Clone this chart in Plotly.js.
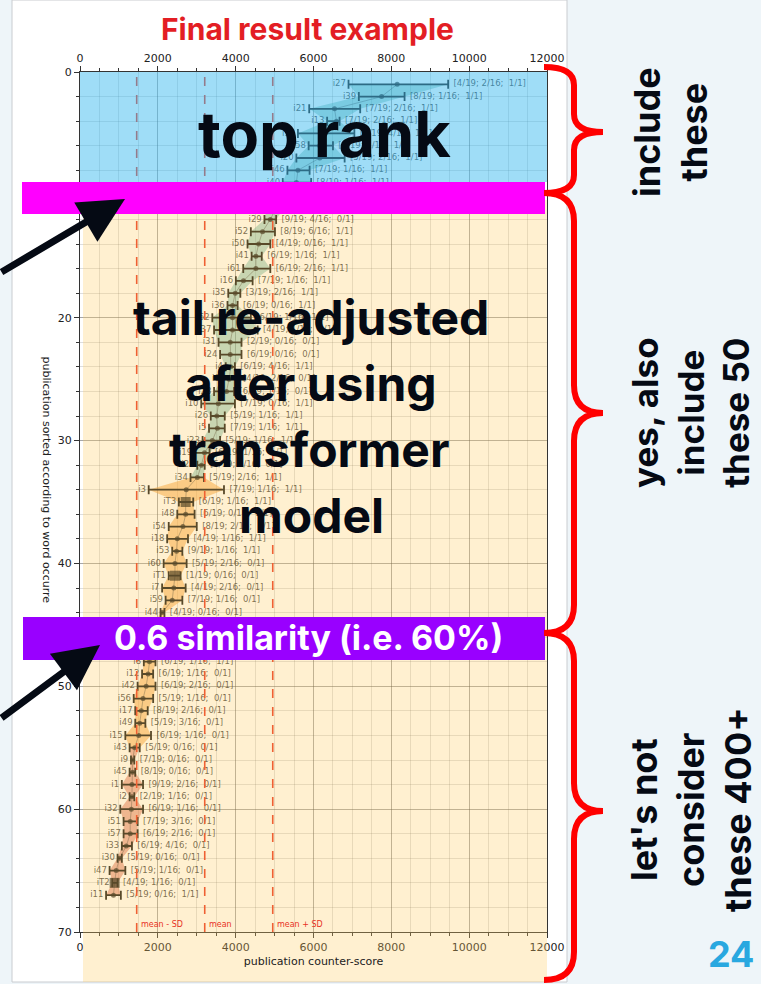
<!DOCTYPE html>
<html><head><meta charset="utf-8">
<script src="https://cdn.plot.ly/plotly-3.0.1.min.js"></script>
<style>html,body{margin:0;padding:0;background:#eef5f9;}#chart{width:761px;height:984px;}</style>
</head><body><div id="chart"></div>
<script>
// ---------- data ----------
const names = ["i27","i39","i21","i13","i38","i58","i20","i46","i40","i14","i25","i29","i52","i50","i41","i61","i16","i35","i36","i62","i37","i31","i24","i4","i6","i28","i10","i26","i5","i23","i19","i22","i34","i3","iT3","i48","i54","i18","i53","i60","iT1","i7","i59","i44","i55","i63","i64","i8","i12","i42","i56","i17","i49","i15","i43","i9","i45","i1","i2","i32","i51","i57","i33","i30","i47","iT2","i11"];
const centers = [8150,7750,6540,6590,6300,6160,6160,5600,5560,5300,5050,4890,4690,4590,4520,4520,4200,3990,3920,3920,3920,3860,3860,3875,3830,3765,3555,3515,3530,3400,3200,3120,3015,2730,2715,2715,2645,2500,2480,2440,2440,2410,2370,2110,2000,1900,1850,1785,1750,1700,1620,1575,1535,1510,1405,1350,1350,1335,1335,1320,1290,1290,1190,1015,930,890,860];
const lows = [6900,7165,5890,6350,5600,5875,5560,5330,5210,5000,4800,4740,4390,4305,4410,4195,4005,3810,3790,3400,3445,3560,3600,3745,3660,3445,3115,3360,3315,3150,2950,3015,2840,1765,2540,2500,2280,2240,2370,2150,2280,2110,2200,2070,1900,1750,1700,1640,1595,1480,1380,1420,1420,1165,1275,1310,1275,1075,1275,1035,1120,1120,1075,965,760,830,670];
const highs = [9460,8340,7200,6670,7050,6500,6800,5900,5940,5600,5250,5040,5010,4890,4670,4890,4435,4120,4050,4390,4565,4150,4150,3980,4050,3960,3980,3720,3720,3600,3330,3205,3185,3700,2910,2945,3000,2775,2630,2740,2585,2715,2630,2170,2150,2050,2000,1940,1880,1940,1880,1740,1680,1825,1535,1395,1420,1620,1395,1620,1480,1480,1335,1075,1165,965,1050];
const counts = ["[4/19; 2/16;  1/1]","[8/19; 1/16;  1/1]","[7/19; 2/16;  1/1]","[7/19; 2/16;  1/1]","[5/19; 4/16;  1/1]","[6/19; 1/16;  1/1]","[5/19; 2/16;  1/1]","[7/19; 1/16;  1/1]","[8/19; 1/16;  1/1]","[6/19; 2/16;  1/1]","[5/19; 1/16;  1/1]","[9/19; 4/16;  0/1]","[8/19; 6/16;  1/1]","[4/19; 0/16;  1/1]","[6/19; 1/16;  1/1]","[6/19; 2/16;  1/1]","[7/19; 1/16;  1/1]","[3/19; 2/16;  1/1]","[6/19; 0/16;  1/1]","[6/19; 1/16;  1/1]","[4/19; 1/16;  1/1]","[2/19; 0/16;  0/1]","[6/19; 0/16;  0/1]","[6/19; 4/16;  1/1]","[4/19; 2/16;  0/1]","[6/19; 1/16;  0/1]","[7/19; 0/16;  1/1]","[5/19; 1/16;  1/1]","[7/19; 1/16;  1/1]","[5/19; 1/16;  1/1]","[6/19; 1/16;  1/1]","[5/19; 1/16;  0/1]","[5/19; 2/16;  1/1]","[7/19; 1/16;  1/1]","[6/19; 1/16;  1/1]","[6/19; 0/16;  1/1]","[8/19; 2/16;  1/1]","[4/19; 1/16;  1/1]","[9/19; 1/16;  1/1]","[5/19; 2/16;  0/1]","[1/19; 0/16;  0/1]","[4/19; 2/16;  0/1]","[7/19; 1/16;  0/1]","[4/19; 0/16;  0/1]","[5/19; 1/16;  0/1]","[6/19; 2/16;  0/1]","[7/19; 1/16;  0/1]","[6/19; 1/16;  1/1]","[6/19; 1/16;  0/1]","[6/19; 2/16;  0/1]","[5/19; 1/16;  0/1]","[8/19; 2/16;  0/1]","[5/19; 3/16;  0/1]","[6/19; 1/16;  0/1]","[5/19; 0/16;  0/1]","[7/19; 0/16;  0/1]","[8/19; 0/16;  0/1]","[9/19; 2/16;  0/1]","[2/19; 1/16;  0/1]","[6/19; 1/16;  0/1]","[7/19; 3/16;  0/1]","[6/19; 2/16;  0/1]","[6/19; 4/16;  0/1]","[5/19; 0/16;  0/1]","[5/19; 1/16;  0/1]","[4/19; 1/16;  0/1]","[5/19; 0/16;  1/1]"];
const groupStarts = [1, 33, 55];
const groupEnds = [33, 55, 67];
const groupColors = ["rgba(70,165,150,0.42)","rgba(245,160,60,0.55)","rgba(210,90,70,0.5)"];
const meanScore = 3205;
const sdScore = 1748;
const statNames = ["mean - SD","mean","mean + SD"];

// ---------- helpers ----------
const L=80,R=547,T=72,B=932;
const px = x => (x-L)/(R-L);
const py = y => (B-y)/(B-T);
const rows = names.map((_,i)=>i+1);

const traces = [];
groupStarts.forEach((s,g)=>{
  const e = groupEnds[g];
  const lo = lows.slice(s-1,e), hi = highs.slice(s-1,e), rr = rows.slice(s-1,e);
  traces.push({type:'scatter',mode:'lines',x:lo.concat(hi.slice().reverse()),y:rr.concat(rr.slice().reverse()),
    fill:'toself',fillcolor:groupColors[g],line:{width:0},hoverinfo:'skip',showlegend:false});
});
traces.push({type:'scatter',mode:'lines',x:centers,y:rows,line:{color:'rgba(60,60,60,0.55)',width:0.8},hoverinfo:'skip',showlegend:false});
traces.push({type:'scatter',mode:'markers',x:centers,y:rows,showlegend:false,
  marker:{color:'#111',size:names.map(n=>n.startsWith('iT')?10:5),symbol:names.map(n=>n.startsWith('iT')?'square':'circle'),line:{width:0}},
  error_x:{type:'data',symmetric:false,array:highs.map((h,i)=>h-centers[i]),arrayminus:lows.map((l,i)=>centers[i]-l),color:'#111',thickness:1.8,width:4.5}});
traces.push({type:'scatter',mode:'text',x:lows,y:rows,xaxis:'x2',text:names.map(n=>n+'\u00a0'),textposition:'middle left',
  textfont:{family:'DejaVu Sans',size:8.5,color:'rgba(35,35,35,0.85)'},hoverinfo:'skip',showlegend:false});
traces.push({type:'scatter',mode:'text',x:highs,y:rows,text:counts.map(c=>'\u00a0\u00a0'+c.replace(/  /g,' \u00a0')),textposition:'middle right',
  textfont:{family:'DejaVu Sans',size:8.5,color:'rgba(35,35,35,0.85)'},hoverinfo:'skip',showlegend:false});

const statX = [meanScore-sdScore, meanScore, meanScore+sdScore];

const bigFont = (size,color)=>({family:'Inter, "Liberation Sans", sans-serif',size:size,color:color,weight:700});
function bracePath(yTop,yBot,yTip,r){
  const xb=544, xs=574, xt=603;
  const P=(x,y)=>px(x).toFixed(4)+','+py(y).toFixed(4);
  return `M${P(xb,yTop)} Q${P(xs,yTop)} ${P(xs,yTop+r)} L${P(xs,yTip-r)} Q${P(xs,yTip)} ${P(xt,yTip)} Q${P(xs,yTip)} ${P(xs,yTip+r)} L${P(xs,yBot-r)} Q${P(xs,yBot)} ${P(xb,yBot)}`;
}

const shapes = [
  {type:'rect',xref:'paper',yref:'paper',x0:px(12),x1:px(567),y0:py(0),y1:py(982),fillcolor:'#ffffff',line:{color:'#c9ccd0',width:1},layer:'below'},
];
statX.forEach(v=>shapes.push({type:'line',xref:'x',yref:'paper',x0:v,x1:v,y0:0,y1:1,line:{color:'#e8321f',width:1.6,dash:'dash'},layer:'above'}));
shapes.push({type:'rect',xref:'paper',yref:'paper',x0:0,x1:1,y0:py(182),y1:1,fillcolor:'rgba(70,190,240,0.52)',line:{width:0},layer:'above'});
shapes.push({type:'rect',xref:'paper',yref:'paper',x0:px(83),x1:1,y0:py(982),y1:py(200),fillcolor:'rgba(255,205,100,0.30)',line:{width:0},layer:'above'});
shapes.push({type:'rect',xref:'paper',yref:'paper',x0:px(22),x1:px(545),y0:py(214),y1:py(182),fillcolor:'#ff00ff',line:{width:0},layer:'above'});
shapes.push({type:'rect',xref:'paper',yref:'paper',x0:px(23),x1:px(545),y0:py(660),y1:py(617),fillcolor:'#9900ff',line:{width:0},layer:'above'});
[[67,193,132,18],[193,633,413,28],[633,980,811,28]].forEach(b=>shapes.push({type:'path',xref:'paper',yref:'paper',path:bracePath(b[0],b[1],b[2],b[3]),line:{color:'#ff0000',width:6},layer:'above'}));

const A = (x,y,text,font,extra)=>Object.assign({xref:'paper',yref:'paper',x:px(x),y:py(y),text:text,showarrow:false,font:font,xanchor:'center',yanchor:'middle'},extra||{});
const annotations = [
  A(307,29,'Final result example',bigFont(30,'#e31e24')),
  A(46,354,'publication sorted according to word occurre',{family:'DejaVu Sans',size:11,color:'#222'},{textangle:90,yanchor:'top'}),
  A(324,134,'top rank',bigFont(63,'#050a14')),
  A(311,317,'tail re-adjusted',bigFont(48,'#050a14')),
  A(311,383,'after using',bigFont(48,'#050a14')),
  A(309,449,'transformer',bigFont(48,'#050a14')),
  A(311,515,'model',bigFont(48,'#050a14')),
  A(308,637,'0.6 similarity (i.e. 60%)',bigFont(34,'#ffffff')),
  A(670,132,'include<br>these',bigFont(36,'#050a14'),{textangle:-90}),
  A(691,413,'yes, also<br>include<br>these 50',bigFont(35,'#050a14'),{textangle:-90}),
  A(691,810,"let's not<br>consider<br>these 400+",bigFont(36,'#050a14'),{textangle:-90}),
  A(731,954,'24',bigFont(36,'#29a8e0')),
  Object.assign(A(125,199,'',{size:10}),{showarrow:true,ax:-140,ay:74,arrowhead:2,arrowsize:1.3,arrowwidth:7,arrowcolor:'#050a14',standoff:0}),
  Object.assign(A(100,645,'',{size:10}),{showarrow:true,ax:-115,ay:74,arrowhead:2,arrowsize:1.3,arrowwidth:7,arrowcolor:'#050a14',standoff:0}),
];
statNames.forEach((s,i)=>annotations.splice(1,0,{xref:'x',yref:'y',x:statX[i],y:69.4,text:s,showarrow:false,xanchor:'left',yanchor:'middle',xshift:2,
  font:{family:'DejaVu Sans',size:8,color:'#e8321f'}}));

const axCommon = {range:[0,12000],dtick:2000,tick0:0,tickformat:'d',exponentformat:'none',separatethousands:false,ticks:'outside',ticklen:5,tickcolor:'#333',showline:true,linecolor:'#333',linewidth:1,
  tickfont:{family:'DejaVu Sans',size:11,color:'#222'},zeroline:false};
const layout = {
  width:761,height:984,margin:{l:80,r:761-547,t:72,b:984-932},
  paper_bgcolor:'#eef5f9',plot_bgcolor:'rgba(0,0,0,0)',showlegend:false,
  xaxis:Object.assign({},axCommon,{showgrid:true,gridcolor:'rgba(60,60,60,0.45)',gridwidth:1,
    minor:{dtick:500,ticks:'outside',ticklen:3,tickcolor:'#333',showgrid:true,gridcolor:'rgba(90,90,90,0.2)',gridwidth:1},
    title:{text:'publication counter-score',font:{family:'DejaVu Sans',size:11,color:'#222'},standoff:4}}),
  xaxis2:Object.assign({},axCommon,{overlaying:'x',side:'top',anchor:'y',matches:'x',showgrid:false,
    minor:{dtick:500,ticks:'outside',ticklen:3,tickcolor:'#333'}}),
  yaxis:{range:[70,0],dtick:10,tick0:0,ticks:'outside',ticklen:5,tickcolor:'#333',showline:true,mirror:true,linecolor:'#333',linewidth:1,
    tickfont:{family:'DejaVu Sans',size:11,color:'#222'},zeroline:false,showgrid:true,gridcolor:'rgba(60,60,60,0.45)',
    minor:{dtick:2,ticks:'outside',ticklen:3,tickcolor:'#333',showgrid:true,gridcolor:'rgba(90,90,90,0.2)',gridwidth:1}},
  shapes:shapes,annotations:annotations
};
Plotly.newPlot('chart',traces,layout,{displayModeBar:false,staticPlot:true});
</script></body></html>
